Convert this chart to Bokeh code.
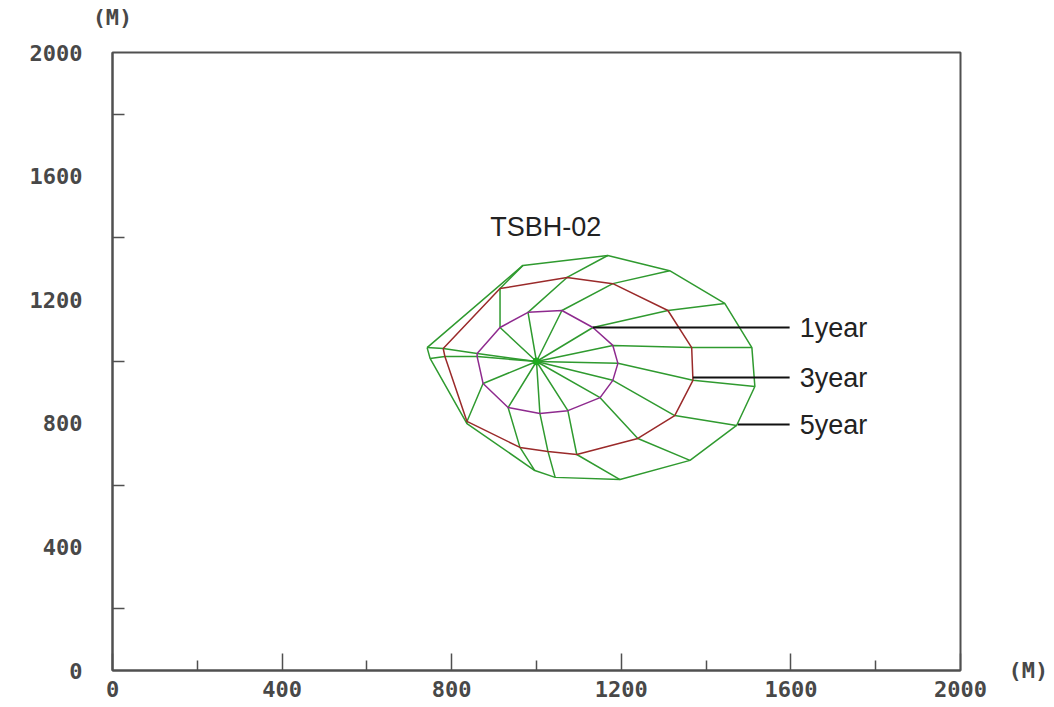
from bokeh.plotting import figure
from bokeh.models import Range1d, FixedTicker, Label, LinearAxis
from bokeh.embed import file_html
from bokeh.resources import INLINE

# Well location (m)
well_x = 1000
well_y = 1000

# Isochrone vertices (m), one per pathline
yr1_x = [860, 914, 980, 1060, 1133, 1180, 1192, 1180, 1150, 1074, 1008, 933, 874, 860]
yr1_y = [1026, 1110, 1159, 1165, 1110, 1052, 994, 939, 883, 841, 832, 851, 929, 1016]

yr3_x = [780, 914, 1072, 1180, 1310, 1366, 1369, 1326, 1239, 1095, 1027, 961, 836, 784]
yr3_y = [1042, 1236, 1272, 1252, 1165, 1045, 939, 825, 751, 699, 709, 722, 806, 1016]

yr5_x = [742, 968, 1168, 1314, 1444, 1508, 1515, 1472, 1362, 1197, 1044, 996, 836, 749]
yr5_y = [1045, 1311, 1343, 1294, 1188, 1045, 919, 793, 680, 618, 625, 647, 799, 1010]

# Labels
well_name = "TSBH-02"
iso_labels = ["1year", "3year", "5year"]
leader_start_x = [1133, 1369, 1475]
leader_y = [1110, 948, 796]
leader_end_x = 1597
unit_label = "(M)"

tick_major = [0, 400, 800, 1200, 1600, 2000]
tick_minor = [200, 600, 1000, 1400, 1800]

GREEN = "#2f9a2f"
RED = "#9a2a2a"
PURPLE = "#8e2a8e"
AXC = "#505050"

p = figure(frame_width=848, frame_height=618,
           min_border_left=112, min_border_right=90,
           min_border_top=52, min_border_bottom=35,
           x_range=Range1d(0, 2000), y_range=Range1d(0, 2000),
           output_backend="svg", toolbar_location=None,
           background_fill_color="white", border_fill_color="white")

p.xgrid.visible = False
p.ygrid.visible = False
p.outline_line_color = AXC
p.outline_line_width = 2

for ax in (p.xaxis[0], p.yaxis[0]):
    ax.ticker = FixedTicker(ticks=tick_major, minor_ticks=tick_minor)
    ax.axis_line_color = AXC
    ax.axis_line_width = 2
    ax.major_tick_line_color = AXC
    ax.minor_tick_line_color = AXC
    ax.major_tick_line_width = 1.5
    ax.minor_tick_line_width = 1.5
    ax.major_tick_out = 0
    ax.minor_tick_out = 0
    ax.major_label_text_font = "DejaVu Sans Mono"
    ax.major_label_text_font_style = "bold"
    ax.major_label_text_font_size = "22px"
    ax.major_label_text_color = "#484848"

p.xaxis.major_tick_in = 17
p.xaxis.minor_tick_in = 10
p.xaxis.major_label_standoff = 10
p.yaxis.major_tick_in = 0
p.yaxis.minor_tick_in = 12
p.yaxis.major_label_standoff = 30

# Unit labels as label-only axes
def unit_axis(standoff):
    a = LinearAxis(ticker=FixedTicker(ticks=[0], minor_ticks=[]),
                   major_label_overrides={0: unit_label})
    a.axis_line_color = None
    a.major_tick_line_color = None
    a.minor_tick_line_color = None
    a.major_label_standoff = standoff
    a.major_label_text_font = "DejaVu Sans Mono"
    a.major_label_text_font_style = "bold"
    a.major_label_text_font_size = "22px"
    a.major_label_text_color = "#484848"
    return a

p.add_layout(unit_axis(17), "above")
p.add_layout(unit_axis(42), "right")

# Pathlines
xs = [[well_x, yr1_x[i], yr3_x[i], yr5_x[i]] for i in range(len(yr1_x))]
ys = [[well_y, yr1_y[i], yr3_y[i], yr5_y[i]] for i in range(len(yr1_y))]
p.multi_line(xs, ys, line_color=GREEN, line_width=1.5)

# Isochrones
p.line(yr5_x + yr5_x[:1], yr5_y + yr5_y[:1], line_color=GREEN, line_width=1.5)
p.line(yr3_x + yr3_x[:1], yr3_y + yr3_y[:1], line_color=RED, line_width=1.5)
p.line(yr1_x + yr1_x[:1], yr1_y + yr1_y[:1], line_color=PURPLE, line_width=1.5)

# Well
p.scatter([well_x], [well_y], size=7, color="#1faa1f")

# Leader lines and labels
for i in range(3):
    p.line([leader_start_x[i], leader_end_x], [leader_y[i], leader_y[i]],
           line_color="#111111", line_width=2)
    p.add_layout(Label(x=1621, y=leader_y[i], text=iso_labels[i],
                       text_font="Liberation Sans", text_font_size="27px",
                       text_color="#222222", text_baseline="middle"))

p.add_layout(Label(x=1022, y=1434, text=well_name, text_font="Liberation Sans",
                   text_font_size="27px", text_color="#222222",
                   text_align="center", text_baseline="middle"))

open("out.html", "w").write(file_html(p, INLINE))
